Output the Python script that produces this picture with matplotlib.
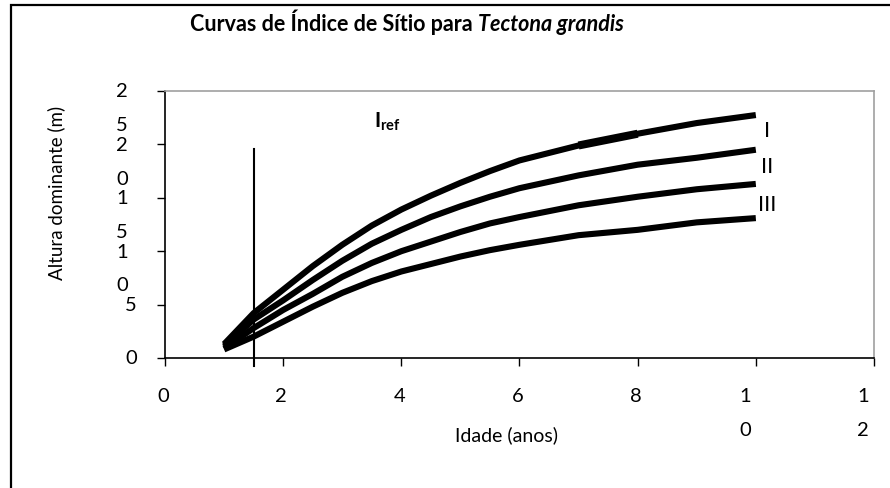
import matplotlib
matplotlib.use("Agg")
import matplotlib.pyplot as plt
from matplotlib.patches import Rectangle

plt.rcParams['font.family'] = ['Lato', 'DejaVu Sans']
plt.rcParams['mathtext.fontset'] = 'custom'
plt.rcParams['mathtext.rm'] = 'Lato'
plt.rcParams['mathtext.bf'] = 'Lato:bold'

# idade (anos) e altura dominante (m)
idade = [1, 1.5, 2, 2.5, 3, 3.5, 4, 4.5, 5, 5.5, 6, 7, 8, 9, 10]
sitio_1 = [1.3, 4.2, 6.4, 8.6, 10.6, 12.4, 13.9, 15.2, 16.4, 17.5, 18.5, 19.9, 21.0, 22.0, 22.75]
sitio_2 = [1.1, 3.6, 5.4, 7.3, 9.1, 10.7, 12.0, 13.2, 14.2, 15.1, 15.9, 17.1, 18.1, 18.75, 19.5]
sitio_3 = [0.9, 2.8, 4.5, 6.0, 7.6, 8.9, 10.0, 10.9, 11.8, 12.6, 13.2, 14.3, 15.1, 15.8, 16.3]
sitio_4 = [0.8, 2.0, 3.4, 4.8, 6.1, 7.2, 8.1, 8.8, 9.5, 10.1, 10.6, 11.5, 12.0, 12.7, 13.1]

idade_ref = 1.5
ref_topo = 19.6

xticks = [0, 2, 4, 6, 8, 10, 12]
xlabels = ["0", "2", "4", "6", "8", "1\n0", "1\n2"]
yticks = [0, 5, 10, 15, 20, 25]
ylabels = ["0", "5", "1\n0", "1\n5", "2\n0", "2\n5"]

classes = ["I", "II", "III"]
classes_x = [10.19, 10.19, 10.19]
classes_y = [21.25, 17.9, 14.3]

fig = plt.figure(figsize=(8.9, 4.88), dpi=100)
ax = fig.add_axes([0.1854, 0.2664, 0.7966, 0.5471])

# moldura do grafico (Excel)
fig.patches.append(Rectangle((0.0124, -0.1), 1.2, 1.0898, fill=False, lw=1.6,
                             ec='black', transform=fig.transFigure))

for s in [sitio_1, sitio_2, sitio_3, sitio_4]:
    ax.plot(idade, s, color='black', lw=4.4, solid_capstyle='butt',
            solid_joinstyle='round')
ax.plot(idade[11:13], sitio_1[11:13], color='black', lw=5.8, solid_capstyle='butt')

ax.plot([idade_ref, idade_ref], [-0.75, ref_topo], color='black', lw=1.5, clip_on=False)

ax.text(3.53, 21.6, r"$\mathbf{I_{ref}}$", fontsize=15, ha='left', va='baseline')
for lbl, x, y in zip(classes, classes_x, classes_y):
    ax.text(x, y, lbl, fontsize=16, ha='center', va='center')

ax.set_xlim(0, 12)
ax.set_ylim(0, 25)
ax.set_xticks(xticks)
ax.set_yticks(yticks)
ax.set_xticklabels([])
ax.set_yticklabels([])
ax.tick_params(direction='out', length=6, width=1, color='black')

for sp in ['top', 'right']:
    ax.spines[sp].set_color('#a0a0a0')
    ax.spines[sp].set_linewidth(1.2)
for sp in ['left', 'bottom']:
    ax.spines[sp].set_color('black')
    ax.spines[sp].set_linewidth(1.2)

# rotulos dos eixos quebrados em duas linhas, como no original
for v, lbl in zip(yticks, ylabels):
    dx = -43 if '\n' in lbl else -34
    ax.annotate(lbl, xy=(0, v), xycoords=('axes fraction', 'data'),
                xytext=(dx * 0.72, 5.5), textcoords='offset points',
                ha='center', va='top', fontsize=14.5, linespacing=2.2)
for v, lbl in zip(xticks, xlabels):
    dx = -11 if '\n' in lbl else -2
    ax.annotate(lbl, xy=(v, 0), xycoords=('data', 'axes fraction'),
                xytext=(dx * 0.72, -30 * 0.72), textcoords='offset points',
                ha='center', va='top', fontsize=14.5, linespacing=2.2)

ax.set_xlabel("Idade (anos)", fontsize=14, va='center')
ax.xaxis.set_label_coords(0.482, -0.288)
ax.set_ylabel("Altura dominante (m)", fontsize=13.5, va='center')
ax.yaxis.set_label_coords(-(165 - 56) / 709, 0.62)

# titulo: parte normal em negrito + nome cientifico em italico
t1 = fig.text(190 / 890, 1 - 31 / 488, "Curvas de Índice de Sítio para ",
              fontsize=15.5, fontweight='bold', ha='left', va='baseline')
ax.annotate("Tectona grandis", xy=(1, 0), xycoords=t1, fontsize=15.5,
            fontweight='bold', fontstyle='italic', ha='left', va='bottom',
            annotation_clip=False)

fig.savefig("out.png", dpi=100)
